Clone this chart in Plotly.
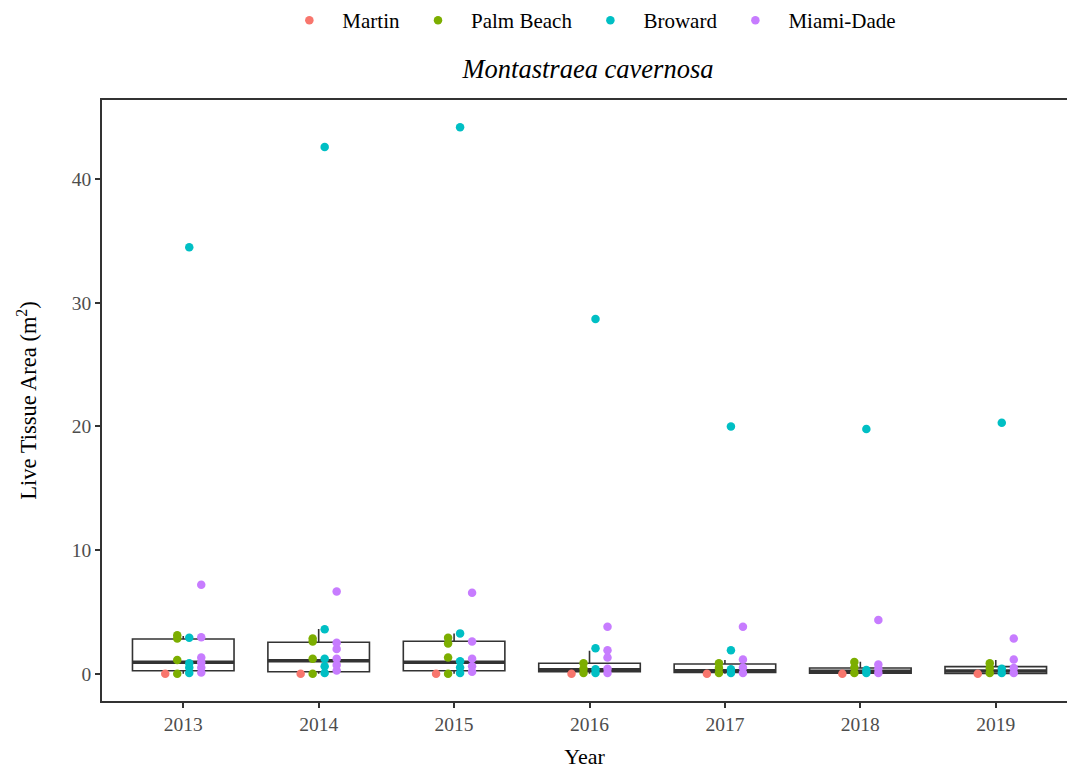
import plotly.graph_objects as go

# Survey years (categorical x axis)
years = ["2013", "2014", "2015", "2016", "2017", "2018", "2019"]

# Box summary per year (m^2)
box_q1 = [0.24, 0.16, 0.24, 0.16, 0.10, 0.03, 0.02]
box_median = [0.92, 1.05, 0.92, 0.32, 0.24, 0.20, 0.22]
box_q3 = [2.81, 2.54, 2.62, 0.84, 0.78, 0.46, 0.57]
box_lower = [0.0, 0.0, 0.0, 0.0, 0.0, 0.0, 0.0]
box_upper = [3.05, 3.62, 3.26, 1.86, 1.10, 0.97, 1.10]

# Live tissue area per colony, by county and year
counties = ["Martin", "Palm Beach", "Broward", "Miami-Dade"]
colors = ["#F8766D", "#7CAE00", "#00BFC4", "#C77CFF"]

martin = {
    "2013": [0.0], "2014": [0.0], "2015": [0.0], "2016": [0.0],
    "2017": [0.0], "2018": [0.0], "2019": [0.0],
}
palm_beach = {
    "2013": [0.0, 1.1, 2.85, 3.1],
    "2014": [0.0, 1.2, 2.6, 2.85],
    "2015": [0.0, 1.3, 2.45, 2.9],
    "2016": [0.05, 0.4, 0.85],
    "2017": [0.05, 0.45, 0.85],
    "2018": [0.05, 0.5, 0.95],
    "2019": [0.05, 0.45, 0.85],
}
broward = {
    "2013": [0.05, 0.5, 0.85, 2.9, 34.5],
    "2014": [0.05, 0.6, 1.2, 3.6, 42.6],
    "2015": [0.05, 0.5, 1.0, 3.26, 44.2],
    "2016": [0.05, 0.35, 2.05, 28.7],
    "2017": [0.05, 0.35, 1.9, 20.0],
    "2018": [0.05, 0.3, 19.8],
    "2019": [0.05, 0.4, 20.3],
}
miami_dade = {
    "2013": [0.1, 0.5, 0.9, 1.3, 2.95, 7.2],
    "2014": [0.25, 0.7, 1.2, 2.0, 2.5, 6.65],
    "2015": [0.15, 0.6, 1.2, 2.6, 6.55],
    "2016": [0.05, 0.4, 1.3, 1.9, 3.8],
    "2017": [0.05, 0.5, 1.15, 3.8],
    "2018": [0.05, 0.4, 0.75, 4.35],
    "2019": [0.05, 0.45, 1.15, 2.85],
}
county_data = [martin, palm_beach, broward, miami_dade]

serif = "Liberation Serif"
ink = "#333333"
box_width = 0.75
dodge = 0.0886

xpos = list(range(len(years)))

fig = go.Figure()

# Boxes with whiskers (no caps), white fill
fig.add_trace(go.Box(
    x=xpos, q1=box_q1, median=box_median, q3=box_q3,
    lowerfence=box_lower, upperfence=box_upper,
    width=box_width, whiskerwidth=0,
    fillcolor="white", line=dict(color=ink, width=1.6),
    boxpoints=False, showlegend=False, hoverinfo="skip",
))

# Thicker median bars drawn over each box
mx, my = [], []
for i, m in enumerate(box_median):
    mx += [i - box_width / 2, i + box_width / 2, None]
    my += [m, m, None]
fig.add_trace(go.Scatter(
    x=mx, y=my, mode="lines", line=dict(color=ink, width=3.6),
    showlegend=False, hoverinfo="skip",
))

# Points dodged side by side by county
for k, (name, col, data) in enumerate(zip(counties, colors, county_data)):
    off = (k - 1.5) * dodge
    px, py = [], []
    for i, yr in enumerate(years):
        for v in data[yr]:
            px.append(i + off)
            py.append(v)
    fig.add_trace(go.Scatter(
        x=px, y=py, mode="markers", name=name,
        marker=dict(color=col, size=8.5, line=dict(width=0)),
    ))

fig.update_layout(
    width=1067, height=769,
    margin=dict(l=102, r=0, t=100, b=68),
    paper_bgcolor="white", plot_bgcolor="white",
    font=dict(family=serif, color="black", size=18),
    title=dict(
        text="<i>Montastraea cavernosa</i>",
        x=588 / 1067, xref="container", xanchor="center",
        y=1 - 69 / 769, yref="container", yanchor="middle",
        font=dict(family=serif, size=26.5, color="black"),
    ),
    legend=dict(
        orientation="h", xref="container", yref="container",
        x=0.259, xanchor="left", y=1.0, yanchor="top",
        font=dict(family=serif, size=21, color="black"),
        itemwidth=56, itemsizing="trace", tracegroupgap=0,
        bgcolor="rgba(0,0,0,0)",
    ),
    showlegend=True,
)

fig.update_xaxes(
    range=[-0.6, 6.526],
    tickvals=xpos, ticktext=years,
    showgrid=False, zeroline=False,
    showline=True, linecolor=ink, linewidth=1.5, mirror=True,
    ticks="outside", ticklen=5, tickwidth=1.5, tickcolor=ink,
    tickfont=dict(family=serif, size=19.5, color="#4D4D4D"),
    title=dict(text="Year", font=dict(family=serif, size=22, color="black"), standoff=14),
)
fig.update_yaxes(
    range=[-2.21, 46.41],
    tickvals=[0, 10, 20, 30, 40],
    showgrid=False, zeroline=False,
    showline=True, linecolor=ink, linewidth=1.5,
    ticks="outside", ticklen=5, tickwidth=1.5, tickcolor=ink,
    tickfont=dict(family=serif, size=19.5, color="#4D4D4D"),
    title=dict(text="Live Tissue Area (m<sup>2</sup>)",
               font=dict(family=serif, size=22.5, color="black"), standoff=29),
)

fig.write_html("out.html")
